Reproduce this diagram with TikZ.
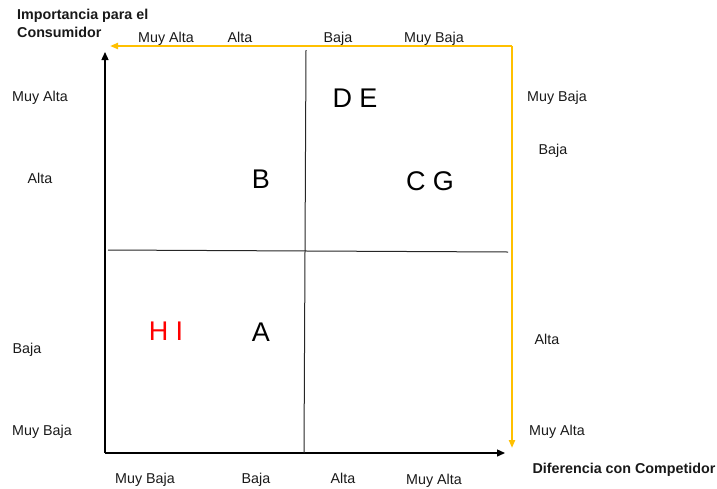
\documentclass[tikz,border=0pt]{standalone}
\usepackage{fontspec}
\setmainfont{Liberation Sans}
\usetikzlibrary{arrows.meta,positioning}
\definecolor{gold}{RGB}{255,192,0}
\definecolor{hired}{RGB}{255,0,0}

\begin{document}
\begin{tikzpicture}[x=1pt, y=-1pt,
    lbl/.style={font=\fontsize{14.3}{17}\selectfont, inner sep=0pt, anchor=base, text=black!90},
    ttl/.style={font=\fontsize{14.3}{17.5}\selectfont\bfseries, inner sep=0pt, align=left, text=black!90},
    letter/.style={font=\fontsize{27}{30}\selectfont, inner sep=0pt, anchor=base},
    axis/.style={-{Triangle[length=8pt,width=7pt]}, line width=1.3pt},
    goldarr/.style={-{Triangle[length=8pt,width=6pt]}, line width=2pt, gold},
    divider/.style={line width=1pt, black!85},
  ]
  \useasboundingbox (0,0) rectangle (717,488);

  % axes
  \coordinate (orig) at (105,453);
  \coordinate (ytip) at (105,52);
  \coordinate (xtip) at (505,453);
  \coordinate (gcorner) at (512,46);
  \coordinate (gleft) at (110,46);
  \coordinate (gdown) at (512,448);

  \draw[axis] (orig) -- (ytip);
  \draw[axis] (orig) -- (xtip);
  \draw[goldarr] (gcorner) -- (gleft);
  \draw[goldarr] (gcorner) -- (gdown);

  % quadrant lines
  \coordinate (hl) at (108,250);
  \coordinate (hr) at (508,252);
  \coordinate (vt) at (306,50);
  \coordinate (vb) at (304,453);
  \draw[divider] (hl) -- (hr);
  \draw[divider] (vt) -- (vb);

  % titles
  \node[ttl, anchor=north west] (ytitle) at (17,9) {Importancia para el\\Consumidor};
  \node[ttl, anchor=base] (xtitle) at (624,473) {Diferencia con Competidor};

  % top scale
  \node[lbl] (t1) at (166,42) {Muy Alta};
  \node[lbl] (t2) at (240,42) {Alta};
  \node[lbl] (t3) at (338,42) {Baja};
  \node[lbl] (t4) at (434,42) {Muy Baja};

  % left scale
  \node[lbl] (l1) at (40,101) {Muy Alta};
  \node[lbl] (l2) at (40,183) {Alta};
  \node[lbl] (l3) at (27,353) {Baja};
  \node[lbl] (l4) at (42,435) {Muy Baja};

  % right scale
  \node[lbl] (r1) at (557,101) {Muy Baja};
  \node[lbl] (r2) at (553,154) {Baja};
  \node[lbl] (r3) at (547,344) {Alta};
  \node[lbl] (r4) at (557,435) {Muy Alta};

  % bottom scale
  \node[lbl] (b1) at (145,483) {Muy Baja};
  \node[lbl] (b2) at (256,483) {Baja};
  \node[lbl] (b3) at (343,483) {Alta};
  \node[lbl] (b4) at (434,484) {Muy Alta};

  % items
  \node[letter] (de) at (355,107) {D E};
  \node[letter] (b) at (261,188) {B};
  \node[letter] (cg) at (430,190) {C G};
  \node[letter, text=hired] (hi) at (166,340) {H I};
  \node[letter] (a) at (261,341) {A};
\end{tikzpicture}
\end{document}
